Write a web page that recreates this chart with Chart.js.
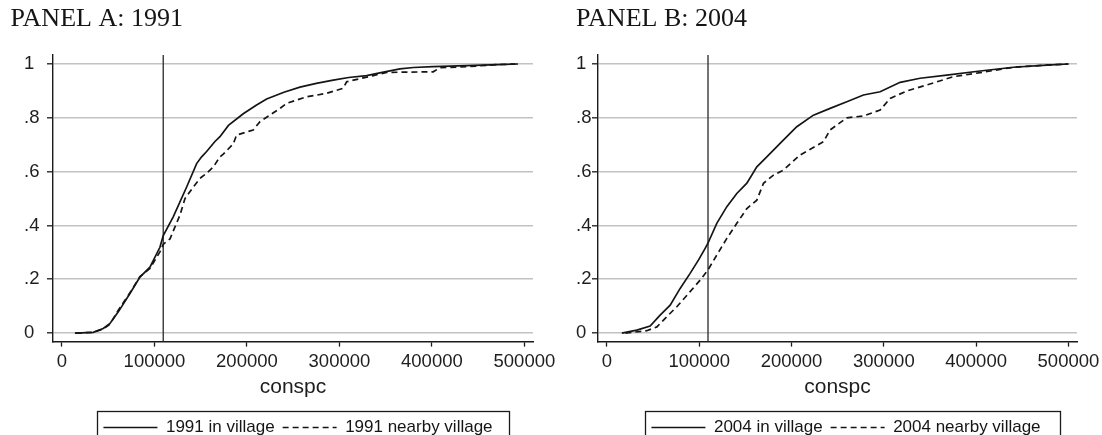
<!DOCTYPE html>
<html>
<head>
<meta charset="utf-8">
<script src="https://cdn.jsdelivr.net/npm/chart.js@4.4.1/dist/chart.umd.min.js"></script>
<style>
html,body{margin:0;padding:0;background:#fff;overflow:hidden;}
#wrap{position:relative;width:1102px;height:435px;overflow:hidden;background:#fff;}
#wrap canvas{position:absolute;top:0;}
</style>
</head>
<body>
<div id="wrap">
<canvas id="cA" width="560" height="446" style="left:0px"></canvas>
<canvas id="cB" width="552" height="446" style="left:550px"></canvas>
</div>
<script>
// ---------- data ----------
const panelTitles = ['PANEL A: 1991', 'PANEL B: 2004'];
const seriesLabelsA = ['1991 in village', '1991 nearby village'];
const seriesLabelsB = ['2004 in village', '2004 nearby village'];
const xTitle = 'conspc';
const xTicks = [0, 100000, 200000, 300000, 400000, 500000];
const xTickLabels = ['0', '100000', '200000', '300000', '400000', '500000'];
const yTicks = [0, 0.2, 0.4, 0.6, 0.8, 1];
const yTickLabels = ['0', '.2', '.4', '.6', '.8', '1'];
const povertyLine = 109500;

// Panel A: 1991
const a91InX = [14000, 33800, 44600, 51900, 60900, 73500, 84300, 95100, 105900, 109500, 120300, 134800, 145600, 151000, 156400, 165400, 170800, 180000, 196000, 210000, 221300, 240000, 257300, 275000, 293300, 310000, 329400, 345000, 365400, 380000, 401400, 437500, 471700, 493000];
const a91InY = [0, 0.003, 0.017, 0.036, 0.079, 0.147, 0.208, 0.245, 0.319, 0.362, 0.432, 0.543, 0.63, 0.655, 0.675, 0.712, 0.730, 0.772, 0.815, 0.847, 0.870, 0.895, 0.914, 0.928, 0.940, 0.95, 0.957, 0.968, 0.982, 0.987, 0.990, 0.994, 0.998, 1.0];
const a91NearX = [15000, 33000, 44600, 51900, 60900, 73500, 84300, 95100, 105900, 109500, 116800, 127600, 133000, 142000, 149200, 156400, 163600, 170800, 174400, 185200, 188800, 206800, 214100, 235700, 242900, 264500, 286200, 304100, 307800, 336600, 351000, 401400, 408600, 437500, 471700, 490000];
const a91NearY = [0, 0.003, 0.015, 0.033, 0.085, 0.15, 0.21, 0.24, 0.302, 0.33, 0.35, 0.439, 0.50, 0.543, 0.575, 0.594, 0.617, 0.655, 0.665, 0.703, 0.736, 0.755, 0.786, 0.835, 0.854, 0.878, 0.891, 0.910, 0.934, 0.957, 0.969, 0.971, 0.986, 0.99, 0.998, 1.0];

// Panel B: 2004
const b04InX = [16100, 32400, 46800, 57600, 68500, 79300, 90100, 99100, 106400, 109300, 119000, 129900, 140700, 151600, 162400, 173200, 187600, 205700, 223700, 241800, 259900, 277900, 296000, 317700, 339300, 368200, 404300, 440400, 476600, 500000];
const b04InY = [0, 0.011, 0.026, 0.067, 0.104, 0.166, 0.222, 0.271, 0.315, 0.333, 0.408, 0.470, 0.519, 0.557, 0.618, 0.655, 0.705, 0.767, 0.810, 0.835, 0.860, 0.885, 0.897, 0.932, 0.947, 0.959, 0.974, 0.988, 0.996, 1.0];
const b04NearX = [20000, 43200, 54100, 64900, 75700, 90100, 101000, 109300, 119000, 129900, 140700, 151600, 162400, 169600, 180400, 191200, 209300, 234600, 241800, 259900, 277900, 296000, 306800, 324900, 346600, 375400, 404300, 440400, 476600, 500000];
const b04NearY = [0, 0.009, 0.023, 0.061, 0.098, 0.154, 0.197, 0.234, 0.290, 0.352, 0.408, 0.463, 0.494, 0.557, 0.587, 0.606, 0.662, 0.711, 0.755, 0.800, 0.807, 0.829, 0.872, 0.900, 0.922, 0.953, 0.968, 0.988, 0.996, 1.0];

// axis ranges
const xMin = -9700, xMax = 509300;
const yMin = -0.0316, yMax = 1.0335;

// ---------- rendering ----------
const SANS = "'Liberation Sans', Arial, Helvetica, sans-serif";
const SERIF = "'Liberation Serif', 'Times New Roman', serif";
const INK = '#1a1a1a';

function zip(xs, ys) { return xs.map((x, i) => ({x: x, y: ys[i]})); }

function panelPlugin(p) {
  return {
    id: 'panelLayout',
    afterLayout(chart) {
      const t = chart.titleBlock;
      if (t) { const w = t.right - t.left; t.left = p.titleX; t.right = p.titleX + w; }
      const lg = chart.legend;
      if (lg) { const dx = p.legendCX - (lg.left + lg.right) / 2; lg.left += dx; lg.right += dx; }
    },
    afterDraw(chart) {
      const lg = chart.legend;
      if (!lg || !lg.legendHitBoxes || !lg.legendHitBoxes.length) return;
      const hb = lg.legendHitBoxes;
      const l = Math.min(...hb.map(h => h.left)) - 6;
      const r = Math.max(...hb.map(h => h.left + h.width)) + p.frameR;
      const top = Math.round(lg.top) + 0.5;
      const ctx = chart.ctx;
      ctx.save();
      ctx.strokeStyle = INK;
      ctx.lineWidth = 1.3;
      ctx.strokeRect(Math.round(l) + 0.5, top, Math.round(r - l), 60);
      ctx.restore();
    }
  };
}

function buildChart(id, p) {
  const datasets = [
    {label: p.labels[0], data: zip(p.inX, p.inY), borderColor: '#151515', borderWidth: 1.7,
     pointRadius: 0, tension: 0, fill: false},
    {label: p.labels[1], data: zip(p.nearX, p.nearY), borderColor: '#151515', borderWidth: 1.7,
     borderDash: [6, 4], pointRadius: 0, tension: 0, fill: false},
    {label: 'line', data: [{x: povertyLine, y: yMin}, {x: povertyLine, y: yMax}],
     borderColor: '#383838', borderWidth: 1.4, pointRadius: 0, fill: false}
  ];
  return new Chart(document.getElementById(id), {
    type: 'line',
    data: {datasets: datasets},
    options: {
      responsive: false,
      animation: false,
      events: [],
      layout: {padding: {left: p.padL, right: p.padR, top: 0, bottom: 0}},
      scales: {
        x: {
          type: 'linear', min: xMin, max: xMax,
          afterBuildTicks: s => { s.ticks = xTicks.map(v => ({value: v})); },
          afterFit: s => { s.paddingLeft = 0; s.paddingRight = 0; },
          grid: {drawOnChartArea: false, drawTicks: true, tickLength: 5, tickColor: INK, tickWidth: 1.3},
          border: {display: true, color: INK, width: 1.4},
          ticks: {font: {family: SANS, size: 18.5}, color: '#1e1e1e', padding: 4, maxRotation: 0, autoSkip: false,
                  callback: (v, i) => xTickLabels[i]},
          title: {display: true, text: xTitle, font: {family: SANS, size: 21}, color: '#1e1e1e',
                  padding: {top: -2, bottom: 11}}
        },
        y: {
          type: 'linear', min: yMin, max: yMax,
          afterBuildTicks: s => { s.ticks = yTicks.map(v => ({value: v})); },
          afterFit: s => { s.width = p.yAxisW; s.paddingTop = 0; s.paddingBottom = 0; },
          grid: {color: '#c2c2c2', lineWidth: 1.6, drawTicks: true, tickLength: 6, tickColor: INK, tickWidth: 1.3},
          border: {display: true, color: INK, width: 1.4},
          ticks: {font: {family: SANS, size: 18.5}, color: '#1e1e1e', crossAlign: 'far', padding: 0, autoSkip: false,
                  callback: (v, i) => yTickLabels[i]}
        }
      },
      plugins: {
        title: {display: true, text: p.title, align: 'start',
                font: {family: SERIF, size: 26, weight: 'normal'}, color: '#151515',
                padding: {top: 4, bottom: 19.8}},
        legend: {
          display: true, position: 'bottom', align: 'center',
          labels: {
            font: {family: SANS, size: 17}, color: '#151515', padding: 8,
            usePointStyle: true, pointStyleWidth: 54, boxHeight: 17,
            generateLabels: chart => chart.data.datasets.slice(0, 2).map((d, i) => ({
              text: d.label, datasetIndex: i, hidden: false,
              strokeStyle: d.borderColor, fillStyle: 'rgba(0,0,0,0)',
              lineWidth: 1.4, lineDash: d.borderDash || [], pointStyle: 'line', fontColor: '#151515'
            }))
          }
        },
        tooltip: {enabled: false}
      }
    },
    plugins: [panelPlugin(p)]
  });
}

buildChart('cA', {
  title: panelTitles[0], labels: seriesLabelsA,
  inX: a91InX, inY: a91InY, nearX: a91NearX, nearY: a91NearY,
  padL: 24, padR: 27, yAxisW: 29, titleX: 10.5, legendCX: 298, frameR: 17
});
buildChart('cB', {
  title: panelTitles[1], labels: seriesLabelsB,
  inX: b04InX, inY: b04InY, nearX: b04NearX, nearY: b04NearY,
  padL: 26, padR: 25, yAxisW: 22, titleX: 26, legendCX: 296, frameR: 20
});
</script>
</body>
</html>
